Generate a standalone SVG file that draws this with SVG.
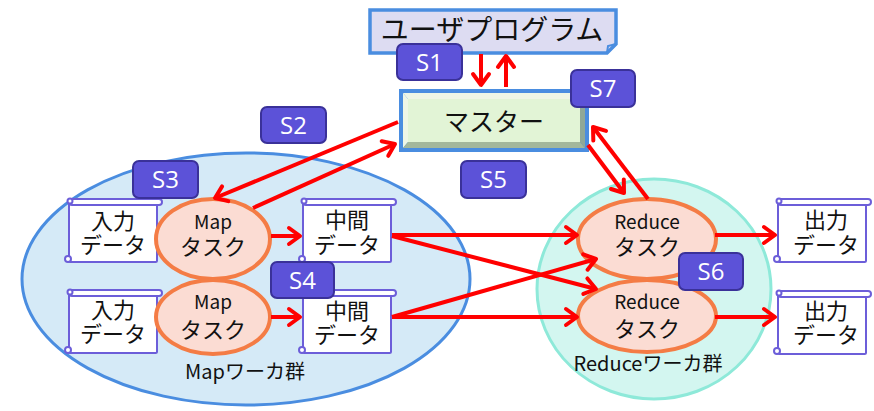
<svg xmlns="http://www.w3.org/2000/svg" width="874" height="411" viewBox="0 0 874 411">
<style>
text{font-family:"Noto Sans CJK JP","Noto Sans",sans-serif;fill:#111;text-anchor:middle}
.badge rect{fill:#5c52d8;stroke:#3a3199;stroke-width:2}
.badge text{fill:#fff;font-family:"Open Sans","Noto Sans",sans-serif;font-size:24px}
.task{fill:#fbdcd3;stroke:#f47c45;stroke-width:4}
.sc{fill:#fff;stroke:#6c5ed9;stroke-width:2}
.conn line{stroke:#ff0000;stroke-width:4;marker-end:url(#ah)}
.t22{font-size:22px}
.t18{font-size:19px}
</style>
<defs>
<marker id="ah" markerUnits="userSpaceOnUse" markerWidth="30" markerHeight="30" viewBox="-15 -15 30 30" refX="0" refY="0" orient="auto">
<path d="M-11,-8 L0,0 L-11,8" fill="none" stroke="#ff0000" stroke-width="4" stroke-linejoin="round" stroke-linecap="round"/>
</marker>
<g id="scroll">
<rect class="sc" x="2" y="5" width="88" height="59" rx="1.5"/>
<rect class="sc" x="2" y="1" width="93" height="6" rx="3"/>
<circle class="sc" cx="3" cy="3" r="2.5"/>
<circle class="sc" cx="1" cy="61" r="3"/>
</g>
</defs>

<g id="map-workers">
<ellipse cx="246" cy="279" rx="224" ry="126" fill="#d5eaf7" stroke="#4a8de0" stroke-width="3"/>
</g>
<g id="reduce-workers">
<ellipse cx="654" cy="289" rx="117" ry="110" fill="#d3f6f0" stroke="#8ee9d9" stroke-width="3"/>
</g>

<g id="user-program">
<path d="M370,10 H616 V44 L607,53 H370 Z" fill="#dddcf2" stroke="#4a8de0" stroke-width="3.5"/>
<path d="M607,53 L608,46 L616,44" fill="none" stroke="#4a8de0" stroke-width="2"/>
<text x="492" y="40" font-size="28">ユーザプログラム</text>
</g>

<g id="master">
<rect x="399" y="89" width="190" height="63" fill="#4a8de0"/>
<polygon points="403,93 585,93 580,99 408,99" fill="#eef6e6"/>
<polygon points="403,93 408,99 408,142 403,148" fill="#eef6e6"/>
<polygon points="403,148 408,142 580,142 585,148" fill="#a3b79c"/>
<polygon points="585,93 585,148 580,142 580,99" fill="#8fa898"/>
<rect x="408" y="99" width="172" height="43" fill="#e2f4d6"/>
<text x="494" y="131" font-size="25">マスター</text>
</g>

<g id="input1"><use href="#scroll" x="67" y="198"/><text class="t22"><tspan x="113" y="229">入力</tspan><tspan x="113" y="253">データ</tspan></text></g>
<g id="input2"><use href="#scroll" x="67" y="289"/><text class="t22"><tspan x="113" y="318">入力</tspan><tspan x="113" y="342">データ</tspan></text></g>

<g id="map1"><ellipse class="task" cx="213" cy="239" rx="57" ry="40"/><text class="t22"><tspan class="t18" x="213" y="229">Map</tspan><tspan x="213" y="255">タスク</tspan></text></g>
<g id="map2"><ellipse class="task" cx="213" cy="317" rx="57" ry="37"/><text class="t22"><tspan class="t18" x="213" y="309">Map</tspan><tspan x="213" y="338">タスク</tspan></text></g>

<g id="mid1"><use href="#scroll" x="301" y="198"/><text class="t22"><tspan x="347" y="228">中間</tspan><tspan x="347" y="253">データ</tspan></text></g>
<g id="mid2"><use href="#scroll" x="301" y="289"/><text class="t22"><tspan x="347" y="319">中間</tspan><tspan x="347" y="343">データ</tspan></text></g>

<g id="reduce1"><ellipse class="task" cx="647" cy="239" rx="69" ry="40"/><text class="t22"><tspan class="t18" x="647" y="229">Reduce</tspan><tspan x="647" y="255">タスク</tspan></text></g>
<g id="reduce2"><ellipse class="task" cx="647" cy="316" rx="69" ry="36"/><text class="t22"><tspan class="t18" x="647" y="309">Reduce</tspan><tspan x="647" y="337">タスク</tspan></text></g>

<g id="output1"><use href="#scroll" x="776" y="198"/><text class="t22"><tspan x="826" y="228">出力</tspan><tspan x="826" y="253">データ</tspan></text></g>
<g id="output2"><use href="#scroll" x="776" y="290"/><text class="t22"><tspan x="826" y="319">出力</tspan><tspan x="826" y="343">データ</tspan></text></g>

<g id="worker-labels">
<text x="245" y="379" font-size="20">Mapワーカ群</text>
<text x="648" y="371" font-size="20">Reduceワーカ群</text>
</g>

<g id="connectors" class="conn">
<line x1="481" y1="54" x2="481" y2="85"/>
<line x1="506" y1="87" x2="506" y2="56"/>
<line x1="398" y1="122" x2="215" y2="198"/>
<line x1="253" y1="208" x2="395" y2="144"/>
<line x1="271" y1="236" x2="300" y2="236"/>
<line x1="271" y1="317" x2="300" y2="317"/>
<line x1="392" y1="235" x2="577" y2="235"/>
<line x1="392" y1="236" x2="596" y2="289"/>
<line x1="392" y1="317" x2="596" y2="259"/>
<line x1="392" y1="317" x2="577" y2="317"/>
<line x1="588" y1="145" x2="624" y2="193"/>
<line x1="648" y1="199" x2="593" y2="127"/>
<line x1="715" y1="235" x2="775" y2="235"/>
<line x1="715" y1="317" x2="775" y2="317"/>
</g>

<g id="s1" class="badge"><rect x="397" y="44" width="65" height="36" rx="6"/><text x="429.5" y="71">S1</text></g>
<g id="s2" class="badge"><rect x="261" y="107" width="65" height="36" rx="6"/><text x="293.5" y="134">S2</text></g>
<g id="s3" class="badge"><rect x="133" y="161" width="65" height="37" rx="6"/><text x="165.5" y="188">S3</text></g>
<g id="s4" class="badge"><rect x="271" y="262" width="63" height="36" rx="6"/><text x="302.5" y="289">S4</text></g>
<g id="s5" class="badge"><rect x="461" y="161" width="65" height="37" rx="6"/><text x="493.5" y="188">S5</text></g>
<g id="s6" class="badge"><rect x="679" y="253" width="64" height="37" rx="6"/><text x="711" y="280">S6</text></g>
<g id="s7" class="badge"><rect x="571" y="70" width="64" height="37" rx="6"/><text x="603" y="97">S7</text></g>
</svg>
